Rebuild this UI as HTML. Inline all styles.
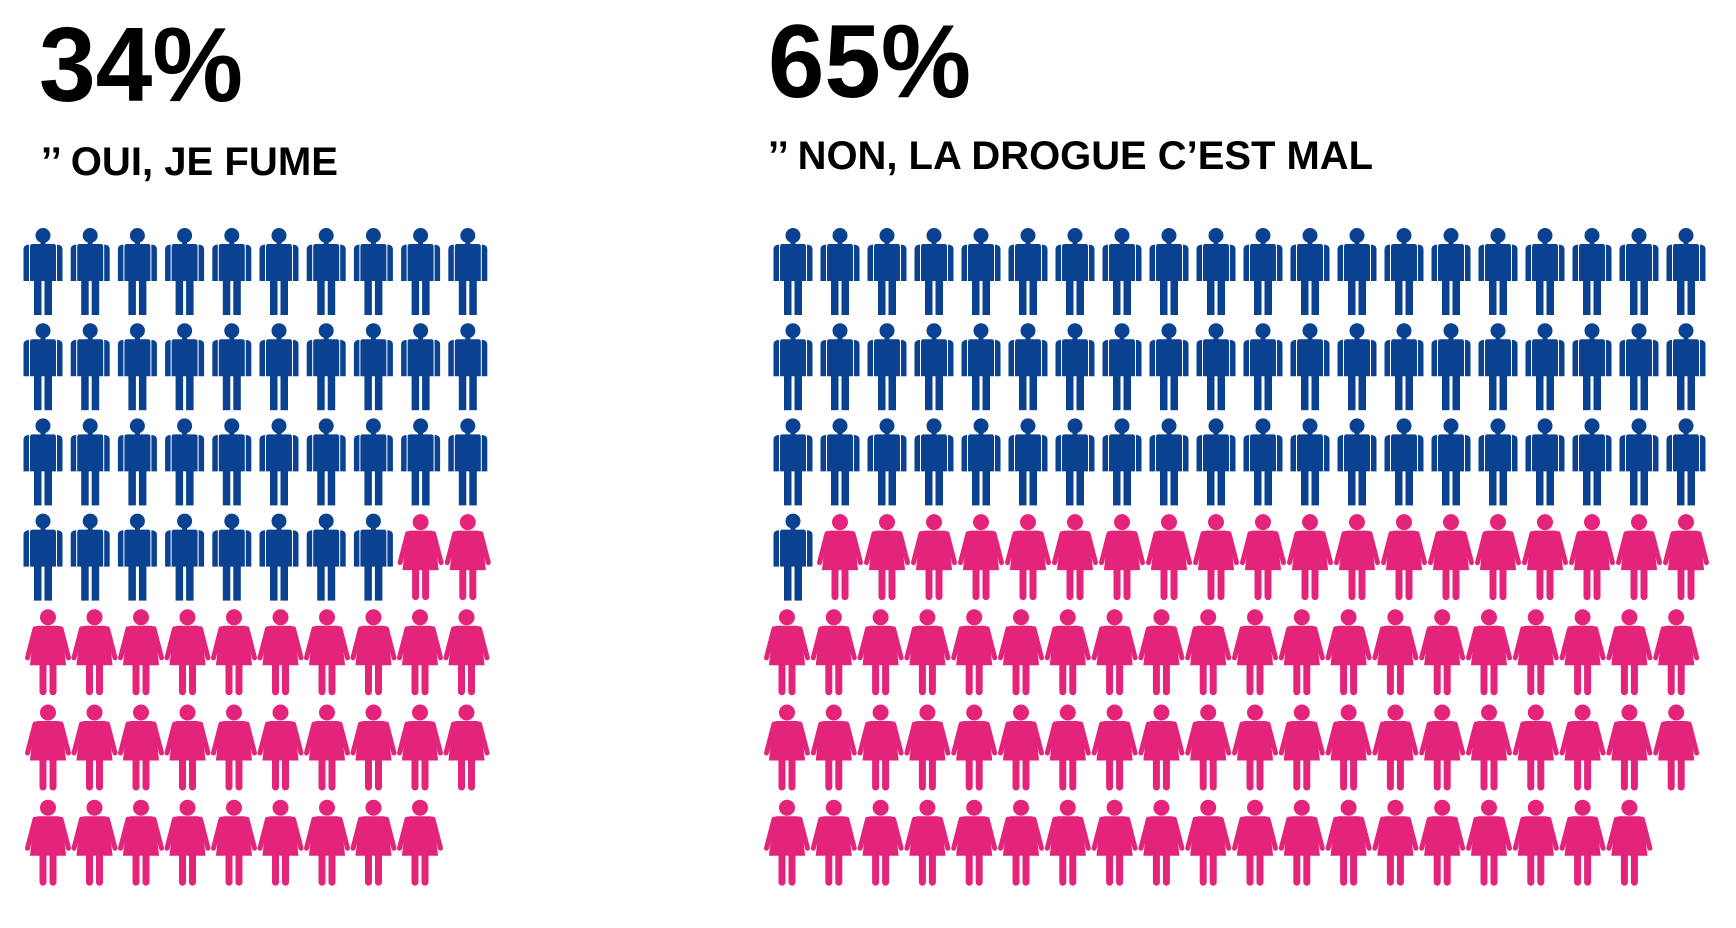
<!DOCTYPE html>
<html><head><meta charset="utf-8"><style>
html,body{margin:0;padding:0;background:#fff;}
svg{display:block;}
text{font-family:"Liberation Sans",sans-serif;font-weight:bold;fill:#000;}
</style></head><body>
<svg id="chart" width="1736" height="928" viewBox="0 0 1736 928" xmlns="http://www.w3.org/2000/svg">
<defs>
<symbol id="man" viewBox="-20 0 40 88" width="40" height="88" overflow="visible">
<circle cx="0" cy="7.5" r="7.5"/>
<rect x="-2.5" y="13" width="5" height="4"/>
<path d="M-11,16 H11 Q13,16 13,19 V53 H-13 V19 Q-13,16 -11,16 Z"/>
<path d="M-14,16.5 Q-19.5,17 -19.5,21 V53 H-14 Z"/>
<path d="M14,16.5 Q19.5,17 19.5,21 V53 H14 Z"/>
<rect x="-9" y="52" width="7.5" height="35"/>
<rect x="1.5" y="52" width="7.5" height="35"/>
</symbol>
<symbol id="woman" viewBox="-22 0 44 86" width="44" height="86" overflow="visible">
<circle cx="0" cy="7.5" r="7.5"/>
<path d="M-10,16.5 H10 Q12.5,16.5 13.5,19.5 L17.5,55 H-17.5 L-13.5,19.5 Q-12.5,16.5 -10,16.5 Z"/>
<path d="M-13,19 L-20.5,48 M13,19 L20.5,48" stroke-width="5" stroke-linecap="round" fill="none"/>
<rect x="-8" y="52" width="6" height="33" rx="3"/>
<rect x="2" y="52" width="6" height="33" rx="3"/>
</symbol>
</defs>
<text x="39" y="101" font-size="106" textLength="204" lengthAdjust="spacingAndGlyphs">34%</text>
<text x="41" y="175" font-size="40" textLength="297" lengthAdjust="spacingAndGlyphs">’’ OUI, JE FUME</text>
<text x="768" y="97" font-size="104" textLength="203" lengthAdjust="spacingAndGlyphs">65%</text>
<text x="768" y="169" font-size="40" textLength="605" lengthAdjust="spacingAndGlyphs">’’ NON, LA DROGUE C’EST MAL</text>
<g id="left-grid"></g>
<g id="right-grid"></g>
</svg>
<script>
const leftMenPerRow = [10, 10, 10, 8, 0, 0, 0];
const leftWomenPerRow = [0, 0, 0, 2, 10, 10, 9];
const rightMenPerRow = [20, 20, 20, 1, 0, 0, 0];
const rightWomenPerRow = [0, 0, 0, 19, 20, 20, 19];

const BLUE = '#0a4291', PINK = '#e3247a';
const NS = 'http://www.w3.org/2000/svg';
function rowY(r){ return 228 + r * 95.2; }
function drawGrid(g, men, women, x0, step, wx0, wstep){
  for (let r = 0; r < men.length; r++){
    for (let i = 0; i < men[r]; i++){
      const u = document.createElementNS(NS, 'use');
      u.setAttribute('href', '#man');
      u.setAttribute('x', x0 + i * step - 20);
      u.setAttribute('y', rowY(r));
      u.setAttribute('fill', BLUE);
      
      
      g.appendChild(u);
    }
    for (let j = 0; j < women[r]; j++){
      const col = men[r] + j;
      const cx = men[r] > 0 ? x0 + col * step : wx0 + col * wstep;
      const u = document.createElementNS(NS, 'use');
      u.setAttribute('href', '#woman');
      u.setAttribute('x', cx - 22);
      u.setAttribute('y', rowY(r) + 1);
      u.setAttribute('fill', PINK);
      u.setAttribute('stroke', PINK);
      
      
      g.appendChild(u);
    }
  }
}
drawGrid(document.getElementById('left-grid'), leftMenPerRow, leftWomenPerRow, 43, 47.2, 48, 46.5);
drawGrid(document.getElementById('right-grid'), rightMenPerRow, rightWomenPerRow, 793, 47, 787, 46.8);
</script>
</body></html>
